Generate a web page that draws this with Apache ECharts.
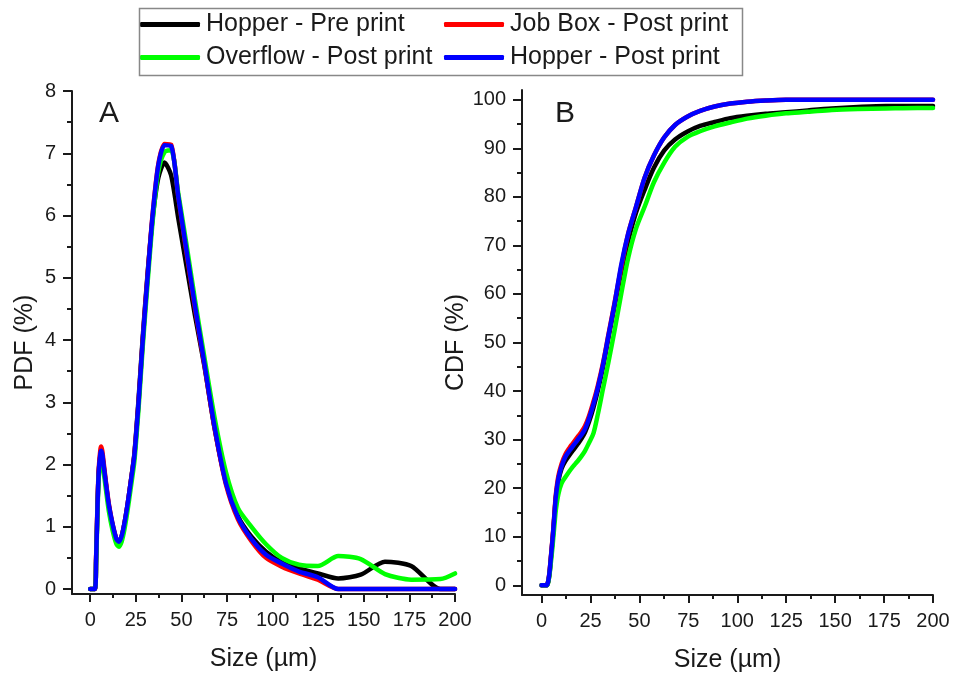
<!DOCTYPE html>
<html>
<head>
<meta charset="utf-8">
<script src="https://cdn.jsdelivr.net/npm/echarts@6/dist/echarts.min.js"></script>
<style>html,body{margin:0;padding:0;background:#fff}#c{width:955px;height:679px}</style>
</head>
<body>
<div id="c"></div>
<script>
// Particle size bins (µm)
const SIZE = [0, 2.5, 3.2, 4.0, 4.7, 5.6, 6.1, 6.7, 7.3, 8.6,
  10.2, 12.2, 14.4, 15.7, 17.2, 18.7, 20.4, 22.2, 24.2, 26.5,
  28.8, 31.4, 34.2, 37.3, 40.7, 44.3, 48.3, 52.7, 57.4, 62.6,
  68.2, 74.4, 81.0, 88.4, 96.4, 105.0, 114.5, 124.8, 136.0, 148.3,
  161.6, 176.0, 192.0, 200.0];

const SERIES_NAMES = ['Hopper - Pre print', 'Job Box - Post print', 'Overflow - Post print', 'Hopper - Post print'];

// PDF (%)
const PDF_HOPPER_PRE = [0, 0, 0.45, 1.35, 1.9, 2.15, 2.2, 2.12, 1.98, 1.68,
  1.33, 1.03, 0.79, 0.75, 0.84, 1.04, 1.34, 1.72, 2.17, 3.05,
  4.05, 5.05, 5.95, 6.6, 6.85, 6.65, 5.95, 5.2, 4.4, 3.58,
  2.58, 1.72, 1.17, 0.84, 0.6, 0.43, 0.33, 0.25, 0.17, 0.23,
  0.44, 0.37, 0, 0];
const PDF_JOBBOX_POST = [0, 0, 0.48, 1.4, 1.95, 2.25, 2.29, 2.2, 2.05, 1.72,
  1.37, 1.05, 0.8, 0.75, 0.84, 1.04, 1.34, 1.72, 2.15, 3.0,
  4.0, 5.02, 6.02, 6.82, 7.15, 7.14, 6.3, 5.42, 4.52, 3.6,
  2.58, 1.68, 1.12, 0.77, 0.5, 0.36, 0.25, 0.15, 0, 0,
  0, 0, 0, 0];
const PDF_OVERFLOW_POST = [0, 0, 0.4, 1.25, 1.8, 2.05, 2.12, 2.05, 1.9, 1.6,
  1.25, 0.95, 0.72, 0.68, 0.76, 0.95, 1.25, 1.62, 2.05, 2.9,
  3.9, 4.9, 5.9, 6.7, 7.02, 7.05, 6.35, 5.55, 4.65, 3.72,
  2.75, 1.88, 1.3, 1.0, 0.72, 0.5, 0.39, 0.37, 0.53, 0.48,
  0.24, 0.15, 0.16, 0.25];
const PDF_HOPPER_POST = [0, 0, 0.45, 1.35, 1.9, 2.18, 2.22, 2.15, 2.0, 1.7,
  1.35, 1.05, 0.8, 0.76, 0.85, 1.05, 1.35, 1.72, 2.15, 3.0,
  4.0, 5.0, 6.0, 6.8, 7.13, 7.12, 6.3, 5.45, 4.55, 3.62,
  2.6, 1.7, 1.15, 0.8, 0.55, 0.41, 0.28, 0.19, 0, 0,
  0, 0, 0, 0];

// CDF (%)
const CDF_HOPPER_PRE = [0, 0, 0.4, 2.2, 5.2, 9.2, 11.7, 15, 18, 21.5,
  24, 25.6, 26.9, 27.6, 28.4, 29.2, 30.2, 31.5, 33.6, 36.6,
  40.2, 45, 51, 57.5, 64.5, 71, 76.8, 81.5, 86, 89.5,
  91.8, 93.4, 94.6, 95.4, 96.2, 96.7, 97.1, 97.4, 97.8, 98.2,
  98.5, 98.7, 98.7, 98.7];
const CDF_JOBBOX_POST = [0, 0, 0.5, 2.6, 5.6, 9.7, 12.2, 15.6, 18.7, 22.5,
  25, 27, 28.4, 29.1, 29.9, 30.7, 31.6, 32.8, 34.8, 37.8,
  41.2, 45.8, 51.7, 58.2, 65.5, 72.5, 78, 84, 88.5, 92.2,
  94.8, 96.5, 97.7, 98.6, 99.2, 99.6, 99.85, 100, 100, 100,
  100, 100, 100, 100];
const CDF_OVERFLOW_POST = [0, 0, 0.3, 2, 4.5, 8, 10.3, 13, 15.5, 18.8,
  21, 22.3, 23.6, 24.3, 25, 25.7, 26.6, 27.7, 29.3, 31.3,
  35.3, 40.5, 46, 52.5, 60, 67.5, 73.5, 78, 83, 87,
  90.3, 92.3, 93.5, 94.5, 95.3, 96.1, 96.7, 97.2, 97.5, 97.9,
  98.1, 98.2, 98.3, 98.3];
const CDF_HOPPER_POST = [0, 0, 0.5, 2.5, 5.5, 9.5, 12, 15.3, 18.3, 22,
  24.5, 26.5, 27.8, 28.5, 29.3, 30.1, 31, 32.2, 34.3, 37.3,
  40.8, 45.5, 51.5, 58, 66, 72.5, 78, 84, 88.5, 92.2,
  94.8, 96.5, 97.7, 98.6, 99.2, 99.6, 99.85, 100, 100, 100,
  100, 100, 100, 100];

// Tick values
const X_MAJOR = [0, 25, 50, 75, 100, 125, 150, 175, 200];
const X_MINOR = [12.5, 37.5, 62.5, 87.5, 112.5, 137.5, 162.5, 187.5];
const PDF_MAJOR = [0, 1, 2, 3, 4, 5, 6, 7, 8];
const PDF_MINOR = [0.5, 1.5, 2.5, 3.5, 4.5, 5.5, 6.5, 7.5];
const CDF_MAJOR = [0, 10, 20, 30, 40, 50, 60, 70, 80, 90, 100];
const CDF_MINOR = [5, 15, 25, 35, 45, 55, 65, 75, 85, 95];

const COLORS = ['#000000', '#ff0000', '#00ff00', '#0000ff'];
const FONT = 'Liberation Sans, Arial, sans-serif';
const TXT = '#1a1a1a';

const pair = (ys) => SIZE.map((x, i) => [x, ys[i]]);

function majorAxis(gridIndex, position, min, max, vals, tickLen, labelMargin, name, nameGap) {
  return {
    type: 'value', gridIndex, position, min, max,
    axisLine: { show: true, onZero: false, lineStyle: { color: TXT, width: 2 } },
    axisTick: { show: true, inside: false, length: tickLen, customValues: vals, lineStyle: { color: TXT, width: 2 } },
    axisLabel: { show: true, customValues: vals, margin: labelMargin, fontSize: 20, color: TXT, fontFamily: FONT },
    splitLine: { show: false },
    name, nameLocation: 'middle', nameGap,
    nameTextStyle: { fontSize: 25, color: TXT, fontFamily: FONT }
  };
}
function minorAxis(gridIndex, position, min, max, vals, tickLen) {
  return {
    type: 'value', gridIndex, position, min, max,
    axisLine: { show: false, onZero: false },
    axisTick: { show: true, inside: false, length: tickLen, customValues: vals, lineStyle: { color: TXT, width: 2 } },
    axisLabel: { show: false },
    splitLine: { show: false }
  };
}

const PDF = [PDF_HOPPER_PRE, PDF_JOBBOX_POST, PDF_OVERFLOW_POST, PDF_HOPPER_POST];
const CDF = [CDF_HOPPER_PRE, CDF_JOBBOX_POST, CDF_OVERFLOW_POST, CDF_HOPPER_POST];

const series = [];
SERIES_NAMES.forEach((name, i) => {
  series.push({
    name, type: 'line', xAxisIndex: 0, yAxisIndex: 0, data: pair(PDF[i]),
    showSymbol: false, symbol: 'none', smooth: 0.25, color: COLORS[i],
    lineStyle: { width: 4.5, color: COLORS[i], cap: 'round', join: 'round' }, z: 2 + i
  });
});
SERIES_NAMES.forEach((name, i) => {
  series.push({
    name, type: 'line', xAxisIndex: 2, yAxisIndex: 2, data: pair(CDF[i]),
    showSymbol: false, symbol: 'none', smooth: 0.3, color: COLORS[i],
    lineStyle: { width: 4.5, color: COLORS[i], cap: 'round', join: 'round' }, z: 2 + i
  });
});

const legendCommon = {
  orient: 'vertical', itemWidth: 60, itemHeight: 5, icon: 'roundRect', itemGap: 8,
  textStyle: { fontSize: 25, color: TXT, fontFamily: FONT, padding: [0, 0, 0, 1] },
  selectedMode: false, padding: 0
};

const chart = echarts.init(document.getElementById('c'), null, { renderer: 'canvas' });
chart.setOption({
  animation: false,
  backgroundColor: '#fff',
  grid: [
    { left: 72, top: 91, width: 383, height: 503, outerBoundsMode: 'none', containLabel: false },
    { left: 522, top: 90, width: 411, height: 505, outerBoundsMode: 'none', containLabel: false }
  ],
  xAxis: [
    majorAxis(0, 'bottom', -10, 200, X_MAJOR, 8, 16, 'Size (µm)', 53),
    minorAxis(0, 'bottom', -10, 200, X_MINOR, 4),
    majorAxis(1, 'bottom', -10, 200, X_MAJOR, 8, 16, 'Size (µm)', 53),
    minorAxis(1, 'bottom', -10, 200, X_MINOR, 4)
  ],
  yAxis: [
    majorAxis(0, 'left', -0.08, 8, PDF_MAJOR, 9, 16, 'PDF (%)', 34),
    minorAxis(0, 'left', -0.08, 8, PDF_MINOR, 5),
    majorAxis(1, 'left', -2, 102, CDF_MAJOR, 9, 16, 'CDF (%)', 53),
    minorAxis(1, 'left', -2, 102, CDF_MINOR, 5)
  ],
  legend: [
    Object.assign({}, legendCommon, { left: 140, top: 12, data: ['Hopper - Pre print', 'Overflow - Post print'] }),
    Object.assign({}, legendCommon, { left: 444, top: 12, data: ['Job Box - Post print', 'Hopper - Post print'] })
  ],
  graphic: [
    { type: 'rect', left: 137, top: 6, shape: { width: 603, height: 67 }, style: { fill: 'none', stroke: '#888', lineWidth: 1.5 }, z: 100 },
    { type: 'text', left: 99, top: 99, style: { text: 'A', fontSize: 30, fill: TXT, fontFamily: FONT }, z: 100 },
    { type: 'text', left: 555, top: 99, style: { text: 'B', fontSize: 30, fill: TXT, fontFamily: FONT }, z: 100 }
  ],
  series
});
</script>
</body>
</html>
